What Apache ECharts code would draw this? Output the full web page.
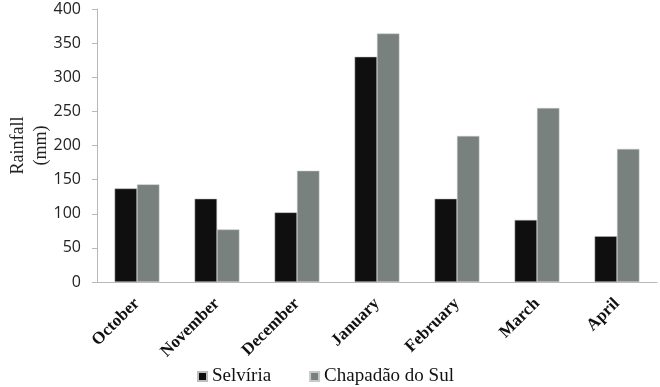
<!DOCTYPE html>
<html lang="en">
<head>
    <meta charset="UTF-8">
    <title>Rainfall</title>
    <script src="https://cdn.jsdelivr.net/npm/echarts@6.0.0/dist/echarts.min.js"></script>
    <style>
        html, body { margin: 0; padding: 0; background: #fff; }
    </style>
</head>
<body>
<div id="rain-chart" style="width: 660px;height:387px;"></div>
</body>
<script>
    var months = ['October', 'November', 'December', 'January', 'February', 'March', 'April'];
    var selviria = [137, 122, 102, 330, 122, 91, 67];
    var chapadao = [143, 77, 163, 364, 214, 255, 195];

    echarts.init(document.getElementById('rain-chart')).setOption({
        animation: false,
        grid: {
            left: 97,
            right: 3,
            top: 9,
            bottom: 105,
            containLabel: false,
            outerBoundsMode: 'none'
        },
        legend: {
            data: ['Selvíria', 'Chapadão do Sul'],
            top: 362,
            left: 192,
            itemWidth: 9,
            itemHeight: 9,
            itemGap: 38,
            icon: 'rect',
            textStyle: {
                fontFamily: 'Liberation Serif',
                fontSize: 19,
                color: '#111'
            }
        },
        xAxis: {
            type: 'category',
            data: months,
            axisLine: { lineStyle: { color: '#b8b8b8' } },
            axisTick: { alignWithLabel: false, length: 5, lineStyle: { color: '#b8b8b8' } },
            axisLabel: {
                rotate: 45,
                margin: 19,
                interval: 0,
                fontFamily: 'Liberation Serif',
                fontWeight: 'bold',
                fontSize: 17,
                color: '#111'
            }
        },
        yAxis: {
            type: 'value',
            min: 0,
            max: 400,
            interval: 50,
            name: 'Rainfall\n(mm)',
            nameLocation: 'middle',
            nameRotate: 90,
            nameGap: 44,
            nameMoveOverlap: false,
            nameTextStyle: {
                fontFamily: 'Liberation Serif',
                fontSize: 18,
                lineHeight: 23,
                color: '#222'
            },
            splitLine: { show: false },
            axisLine: { show: true, lineStyle: { color: '#b8b8b8' } },
            axisTick: { show: true, length: 5, lineStyle: { color: '#b8b8b8' } },
            axisLabel: {
                margin: 16,
                fontFamily: 'Open Sans',
                fontSize: 16,
                color: '#222'
            }
        },
        series: [
            {
                name: 'Selvíria',
                type: 'bar',
                data: selviria,
                barGap: '0%',
                barCategoryGap: '44%',
                itemStyle: { color: '#0e0f0e', borderColor: '#bdbdbd', borderWidth: 0.5 }
            },
            {
                name: 'Chapadão do Sul',
                type: 'bar',
                data: chapadao,
                itemStyle: { color: '#79817f', borderColor: '#c8c8c8', borderWidth: 0.5 }
            }
        ]
    });
</script>
</html>
